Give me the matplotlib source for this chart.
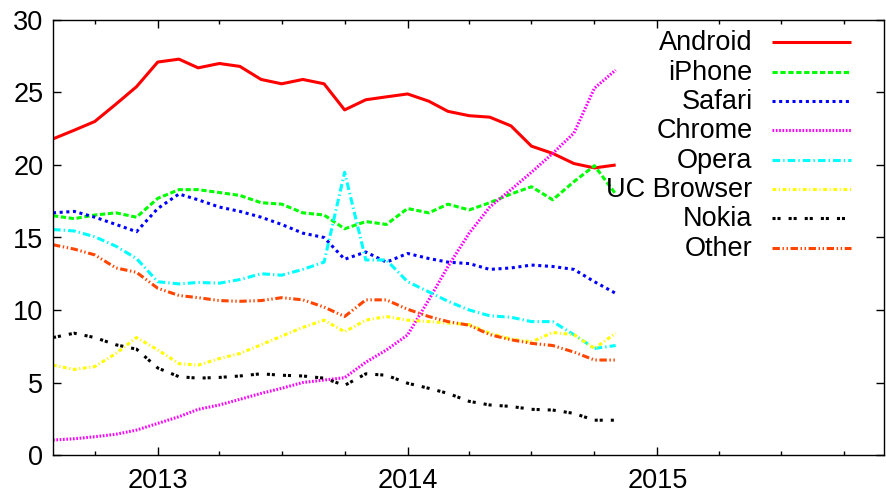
import numpy as np
import pandas as pd
import matplotlib
matplotlib.use("Agg")
import matplotlib.pyplot as plt
import matplotlib.dates as mdates
from matplotlib.lines import Line2D

plt.rcParams["font.family"] = ["Liberation Sans", "DejaVu Sans"]
plt.rcParams["lines.scale_dashes"] = False

months = pd.date_range("2012-08-01", periods=28, freq="MS")

android = [21.8, 22.4, 23.0, 24.2, 25.4, 27.1, 27.3, 26.7, 27.0, 26.8, 25.9, 25.6, 25.9, 25.6,
           23.8, 24.5, 24.7, 24.9, 24.4, 23.7, 23.4, 23.3, 22.7, 21.3, 20.8, 20.1, 19.8, 20.0]
iphone = [16.5, 16.3, 16.55, 16.7, 16.4, 17.7, 18.3, 18.3, 18.1, 17.9, 17.4, 17.3, 16.7, 16.55,
          15.6, 16.1, 15.9, 17.0, 16.7, 17.3, 16.9, 17.4, 18.0, 18.5, 17.6, 18.85, 19.95, 18.0]
safari = [16.7, 16.8, 16.4, 15.9, 15.4, 17.0, 18.0, 17.6, 17.1, 16.8, 16.4, 15.9, 15.3, 15.0,
          13.5, 14.0, 13.3, 13.9, 13.55, 13.3, 13.2, 12.8, 12.9, 13.1, 13.0, 12.8, 11.95, 11.15]
chrome = [1.03, 1.12, 1.26, 1.43, 1.72, 2.18, 2.64, 3.15, 3.45, 3.84, 4.25, 4.6, 5.0, 5.17,
          5.33, 6.4, 7.24, 8.28, 10.7, 13.0, 15.3, 17.1, 18.3, 19.5, 20.8, 22.2, 25.3, 26.55]
opera = [15.55, 15.45, 15.05, 14.4, 13.55, 11.95, 11.8, 11.9, 11.85, 12.1, 12.5, 12.4, 12.8, 13.3,
         19.5, 13.45, 13.45, 11.95, 11.25, 10.6, 10.0, 9.6, 9.5, 9.2, 9.2, 8.3, 7.35, 7.55]
uc_browser = [6.2, 5.9, 6.1, 7.0, 8.1, 7.25, 6.3, 6.2, 6.65, 7.0, 7.6, 8.2, 8.8, 9.3,
              8.5, 9.3, 9.55, 9.3, 9.2, 9.1, 9.0, 8.4, 8.0, 7.8, 8.45, 8.3, 7.35, 8.4]
nokia = [8.1, 8.4, 8.1, 7.6, 7.3, 6.0, 5.4, 5.3, 5.35, 5.45, 5.6, 5.5, 5.45, 5.3,
         4.8, 5.6, 5.5, 4.95, 4.6, 4.25, 3.7, 3.45, 3.35, 3.15, 3.1, 2.87, 2.4, 2.4]
other = [14.5, 14.2, 13.8, 12.9, 12.6, 11.5, 11.0, 10.85, 10.65, 10.6, 10.65, 10.85, 10.7, 10.2,
         9.55, 10.7, 10.7, 10.05, 9.55, 9.2, 8.95, 8.3, 7.95, 7.7, 7.55, 7.1, 6.55, 6.55]

labels = ["Android", "iPhone", "Safari", "Chrome", "Opera", "UC Browser", "Nokia", "Other"]
series = [android, iphone, safari, chrome, opera, uc_browser, nokia, other]

# gnuplot-ish line types
styles = [
    dict(color="#ff0000", dashes=()),
    dict(color="#00ff00", dashes=(3.8, 1.9)),
    dict(color="#0000ff", dashes=(2.2, 2.6)),
    dict(color="#ff00ff", dashes=(1.2, 1.2)),
    dict(color="#00ffff", dashes=(5.5, 2.2, 1.0, 2.2)),
    dict(color="#ffff00", dashes=(2.7, 1.9, 0.8, 1.9)),
    dict(color="#000000", dashes=(2.2, 1.4, 2.2, 5.8)),
    dict(color="#ff4500", dashes=(5.3, 1.9, 1.0, 1.9, 1.0, 1.9)),
]
lw = 2.2

fig = plt.figure(figsize=(8.86, 4.94), dpi=100)
ax = fig.add_axes([53 / 886, 39 / 494, 831 / 886, 435 / 494])

for vals, st in zip(series, styles):
    ln, = ax.plot(months, vals, color=st["color"], lw=lw, solid_capstyle="butt",
                  dash_capstyle="butt")
    if st["dashes"]:
        ln.set_dashes(st["dashes"])

ax.set_xlim(pd.Timestamp("2012-08-01"), pd.Timestamp("2015-11-28"))
ax.set_ylim(0, 30)
ax.set_yticks(range(0, 31, 5))
ax.xaxis.set_major_locator(mdates.YearLocator())
ax.xaxis.set_major_formatter(mdates.DateFormatter("%Y"))
ax.xaxis.set_minor_locator(mdates.MonthLocator(bymonth=[1, 4, 7, 10]))

for s in ax.spines.values():
    s.set_linewidth(1.0)
ax.tick_params(which="both", direction="in", top=True, right=True, width=1.0,
               labelsize=19.5)
ax.tick_params(which="major", length=6)
ax.tick_params(which="minor", length=3)
ax.tick_params(axis="x", which="major", pad=9)
ax.tick_params(axis="y", pad=7)

# legend drawn by hand so the labels sit right-aligned left of the samples
top, step = 0.949, 0.0675
for k, (name, st) in enumerate(zip(labels, styles)):
    y = top - k * step
    ax.text(0.842, y - 0.0184, name, transform=ax.transAxes, ha="right",
            va="baseline", fontsize=19.5)
    key = Line2D([0.865, 0.960], [y, y], transform=ax.transAxes, color=st["color"],
                 lw=lw, solid_capstyle="butt", dash_capstyle="butt")
    if st["dashes"]:
        key.set_dashes(st["dashes"])
    ax.add_line(key)

fig.savefig("out.png", dpi=100)
